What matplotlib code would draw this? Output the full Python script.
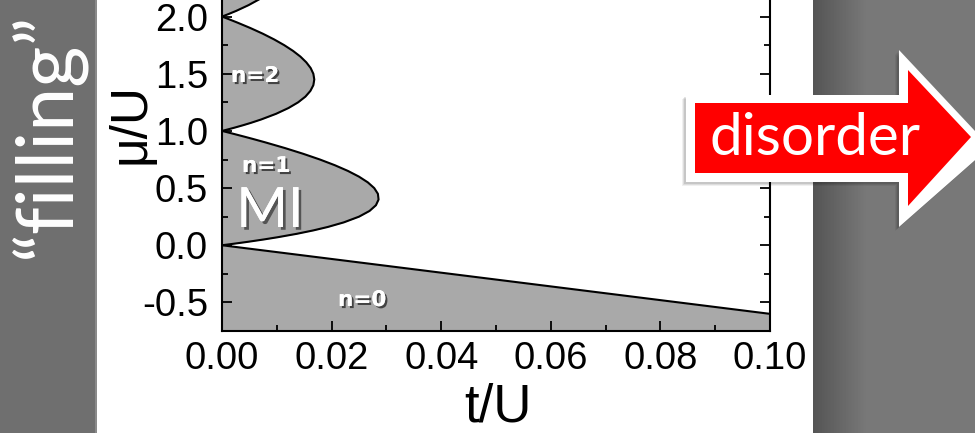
import matplotlib
matplotlib.use("Agg")
import matplotlib.pyplot as plt
import matplotlib.patheffects as pe
from matplotlib.patches import Polygon, Rectangle
from matplotlib.ticker import MultipleLocator
import numpy as np

# ---------------- data ----------------
# n=0 boundary (straight line)
n0_t = [0.0, 0.10]
n0_mu = [0.0, -0.60]

# n=1 lobe boundary: mu values and the lobe's t extent
n1_mu = [0.00, 0.01, 0.02, 0.03, 0.05, 0.07, 0.10, 0.13, 0.16, 0.20, 0.25, 0.30,
         0.35, 0.40, 0.45, 0.50, 0.55, 0.60, 0.65, 0.70, 0.75, 0.80, 0.85, 0.90,
         0.93, 0.95, 0.97, 0.98, 1.00]
n1_t = [0.0, 0.00163, 0.00320, 0.00471, 0.00754, 0.01014, 0.01364, 0.01668,
        0.01931, 0.02222, 0.02500, 0.02692, 0.02809, 0.02857, 0.02845, 0.02778,
        0.02661, 0.02500, 0.02298, 0.02059, 0.01786, 0.01481, 0.01149, 0.00789,
        0.00562, 0.00406, 0.00246, 0.00165, 0.0]

# n=2 lobe
n2_mu = [1.00, 1.01, 1.02, 1.03, 1.05, 1.07, 1.10, 1.15, 1.20, 1.25, 1.30, 1.35,
         1.40, 1.45, 1.50, 1.55, 1.60, 1.65, 1.70, 1.75, 1.80, 1.85, 1.90, 1.95,
         1.98, 2.00]
n2_t = [0.0, 0.00082, 0.00162, 0.00239, 0.00386, 0.00524, 0.00714, 0.00988,
        0.01212, 0.01389, 0.01522, 0.01613, 0.01667, 0.01684, 0.01667, 0.01618,
        0.01538, 0.01431, 0.01296, 0.01136, 0.00952, 0.00746, 0.00517, 0.00268,
        0.00110, 0.0]

# n=3 lobe (only its lower part is visible)
n3_mu = [2.00, 2.02, 2.05, 2.10, 2.15, 2.20, 2.25]
n3_t = [0.0, 0.00108, 0.00260, 0.00484, 0.00675, 0.00833, 0.00962]

x_ticks = [0.00, 0.02, 0.04, 0.06, 0.08, 0.10]
x_ticklabels = ["0.00", "0.02", "0.04", "0.06", "0.08", "0.10"]
y_ticks = [-0.5, 0.0, 0.5, 1.0, 1.5, 2.0]
y_ticklabels = ["-0.5", "0.0", "0.5", "1.0", "1.5", "2.0"]

region_labels = ["n=0", "n=1", "n=2"]

# ---------------- figure ----------------
W, H = 975, 433
fig = plt.figure(figsize=(W / 100, H / 100), dpi=100)
fig.patch.set_facecolor("white")


def fx(x):
    return x / W


def fy(y):
    return 1 - y / H


# left gray strip
fig.patches.append(Rectangle((0, 0), fx(97), 1, transform=fig.transFigure,
                             facecolor="#6f6f6f", edgecolor="none", zorder=-5))
fig.patches.append(Rectangle((fx(95), 0), fx(2), 1, transform=fig.transFigure,
                             facecolor="#8a8a8a", edgecolor="none", zorder=-5))
# right gray panel with gradient
gax = fig.add_axes([fx(813), 0, 1 - fx(813), 1], zorder=-5)
grad = np.clip(np.linspace(0, 1, 162) / 0.33, 0, 1)
vals = 0x55 / 255 + grad * (0x78 - 0x55) / 255
gax.imshow(np.tile(vals, (10, 1)), cmap="gray", vmin=0, vmax=1, aspect="auto",
           extent=[0, 1, 0, 1])
gax.set_axis_off()

# main axes
ax = fig.add_axes([fx(222), fy(331), fx(770) - fx(222), (331 + 12) / H], zorder=0)
gray = "#a9a9a9"
ylo, yhi = -0.75, 2.25
ax.set_xlim(0, 0.10)
ax.set_ylim(ylo, yhi)

ax.fill_between(n0_t, n0_mu, ylo, color=gray, lw=0)
ax.plot(n0_t, n0_mu, color="black", lw=1.5)
for mu, t in [(n1_mu, n1_t), (n2_mu, n2_t), (n3_mu, n3_t)]:
    ax.fill_betweenx(mu, 0, t, color=gray, lw=0)
    ax.plot(t, mu, color="black", lw=1.5)

ax.set_xticks(x_ticks)
ax.set_xticklabels(x_ticklabels)
ax.set_yticks(y_ticks)
ax.set_yticklabels(y_ticklabels)
ax.xaxis.set_minor_locator(MultipleLocator(0.01))
ax.yaxis.set_minor_locator(MultipleLocator(0.25))
ax.tick_params(which="both", direction="in", top=True, right=True, width=1.3)
ax.tick_params(which="major", length=7)
ax.tick_params(which="minor", length=4.5)
ax.tick_params(axis="x", which="major", labelsize=27.5, pad=7)
ax.tick_params(axis="y", which="major", labelsize=27.5, pad=10)
for lab in ax.get_xticklabels() + ax.get_yticklabels():
    lab.set_fontfamily("Liberation Sans")
for s in ax.spines.values():
    s.set_linewidth(1.5)

# axis labels
fig.text(fx(498), 0.0, "t/U", fontsize=38, family="Liberation Sans",
         ha="center", va="bottom")
fig.text(fx(145), fy(124), "\u03bc/U", fontsize=37, family="Liberation Sans",
         rotation=90, rotation_mode="anchor", ha="center", va="baseline")

# region labels
shadow = [pe.withSimplePatchShadow(offset=(1.5, -1.5), shadow_rgbFace="black", alpha=0.6),
          pe.Normal()]
pos = {"n=0": (362, 300), "n=1": (266, 166), "n=2": (255, 76)}
for lab in region_labels:
    x, y = pos[lab]
    fig.text(fx(x), fy(y), lab, fontsize=15.5, family="DejaVu Sans", weight="bold",
             color="white", ha="center", va="center", path_effects=shadow, zorder=6)
fig.text(fx(270), fy(227), "MI", fontsize=40, family="Lato", color="white",
         ha="center", va="baseline",
         path_effects=[pe.withSimplePatchShadow(offset=(2, -2), shadow_rgbFace="black", alpha=0.5),
                       pe.Normal()], zorder=6)

# "filling" text
fig.text(fx(71), fy(136), "\u201cfilling\u201d", fontsize=57, family="Lato", color="white",
         rotation=90, rotation_mode="anchor", ha="center", va="baseline", zorder=6)

# disorder arrow
outer = [(686, 95), (899, 95), (899, 50), (990, 147), (899, 227), (899, 182), (686, 182)]
inner = [(695, 103), (908, 103), (908, 70), (971, 137), (908, 206), (908, 173), (695, 173)]
for k, a in [(4, 0.06), (3, 0.08), (2, 0.1)]:
    sh = [(fx(x - k), fy(y + k)) for x, y in outer]
    fig.patches.append(Polygon(sh, closed=True, transform=fig.transFigure,
                               facecolor="black", edgecolor="none", alpha=a, zorder=4))
fig.patches.append(Polygon([(fx(x), fy(y)) for x, y in outer], closed=True,
                           transform=fig.transFigure, facecolor="white",
                           edgecolor="none", zorder=5))
fig.patches.append(Polygon([(fx(x), fy(y)) for x, y in inner], closed=True,
                           transform=fig.transFigure, facecolor="#ff0000",
                           edgecolor="none", zorder=5))
fig.text(fx(815), fy(155), "disorder", fontsize=42, family="Lato", color="white",
         ha="center", va="baseline", zorder=6)

fig.savefig("out.png", dpi=100)
